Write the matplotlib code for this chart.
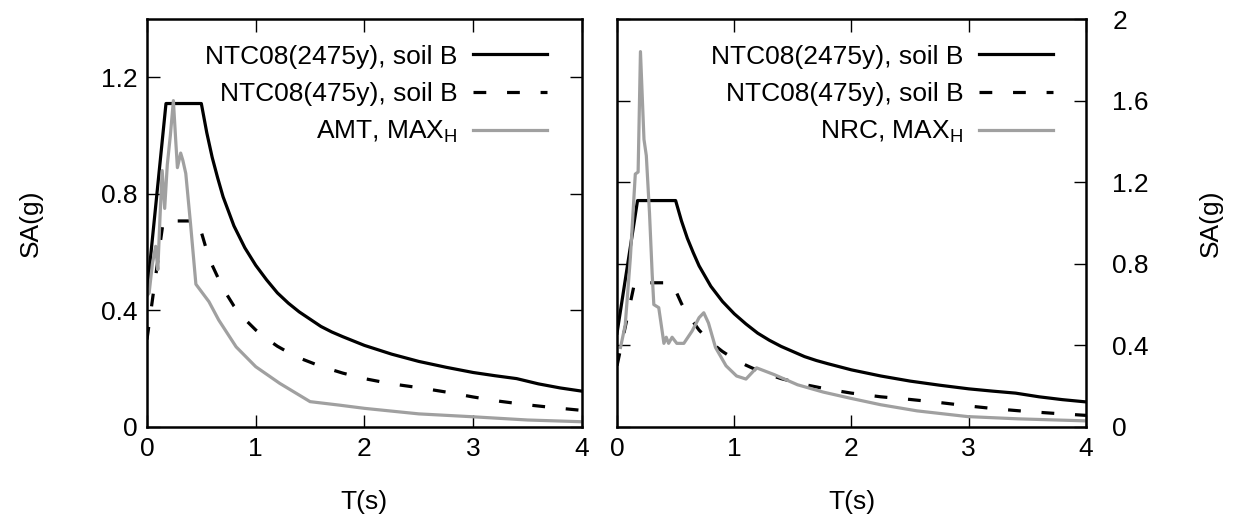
import matplotlib
matplotlib.use("Agg")
import matplotlib.pyplot as plt

plt.rcParams['font.family'] = ['Liberation Sans', 'DejaVu Sans']
plt.rcParams['mathtext.fontset'] = 'custom'
plt.rcParams['mathtext.rm'] = 'Liberation Sans'
plt.rcParams['mathtext.it'] = 'Liberation Sans:italic'

# NTC08 design spectra, soil B (same in both panels)
t_2475 = [0, 0.175, 0.5, 0.55, 0.6, 0.65, 0.7, 0.75, 0.8, 0.9, 1.0, 1.1, 1.2, 1.3,
          1.4, 1.5, 1.6, 1.7, 1.8, 2.0, 2.25, 2.5, 2.75, 3.0, 3.2, 3.4, 3.6, 3.8, 4.0]
sa_2475 = [0.46, 1.11, 1.11, 1.01, 0.925, 0.855, 0.79, 0.74, 0.69, 0.615, 0.555, 0.505,
           0.46, 0.425, 0.395, 0.37, 0.345, 0.326, 0.31, 0.28, 0.25, 0.225, 0.205,
           0.187, 0.176, 0.166, 0.148, 0.134, 0.123]

t_475 = [0, 0.15, 0.47, 0.55, 0.6, 0.7, 0.8, 0.9, 1.0, 1.1, 1.2, 1.3, 1.4, 1.6, 1.8,
         2.0, 2.25, 2.5, 2.75, 3.0, 3.25, 3.5, 3.75, 4.0]
sa_475 = [0.30, 0.707, 0.707, 0.605, 0.555, 0.475, 0.415, 0.37, 0.333, 0.303, 0.277,
          0.256, 0.237, 0.208, 0.185, 0.166, 0.148, 0.135, 0.12, 0.103, 0.088, 0.076,
          0.066, 0.057]

# AMT record, max horizontal
t_amt = [0, 0.02, 0.05, 0.08, 0.10, 0.12, 0.14, 0.163, 0.187, 0.215, 0.243, 0.265,
         0.28, 0.31, 0.33, 0.357, 0.40, 0.45, 0.47, 0.51, 0.57, 0.66, 0.82, 1.0, 1.22,
         1.5, 1.77, 2.0, 2.5, 3.0, 3.5, 4.0]
sa_amt = [0.45, 0.46, 0.56, 0.62, 0.54, 0.72, 0.88, 0.75, 0.90, 1.0, 1.12, 0.98,
          0.89, 0.94, 0.915, 0.87, 0.70, 0.49, 0.48, 0.46, 0.43, 0.367, 0.275, 0.207,
          0.15, 0.087, 0.075, 0.064, 0.045, 0.035, 0.024, 0.018]

# NRC record, max horizontal
t_nrc = [0.03, 0.07, 0.114, 0.156, 0.18, 0.20, 0.23, 0.25, 0.277, 0.30, 0.314, 0.356,
         0.38, 0.40, 0.42, 0.44, 0.47, 0.51, 0.57, 0.64, 0.70, 0.74, 0.78, 0.84, 0.93,
         1.02, 1.10, 1.19, 1.34, 1.54, 1.76, 1.99, 2.25, 2.56, 2.99, 3.42, 4.0]
sa_nrc = [0.39, 0.50, 0.83, 1.24, 1.25, 1.84, 1.41, 1.33, 1.05, 0.75, 0.60, 0.585,
          0.49, 0.41, 0.44, 0.41, 0.44, 0.41, 0.41, 0.47, 0.536, 0.56, 0.51, 0.39, 0.30,
          0.25, 0.235, 0.29, 0.257, 0.207, 0.171, 0.141, 0.109, 0.079, 0.051, 0.04, 0.03]

x_ticks = [0, 1, 2, 3, 4]
y_ticks_left = [0, 0.4, 0.8, 1.2]
y_ticks_right = [0, 0.4, 0.8, 1.2, 1.6, 2]

fs = 19
gray = '#a0a0a0'
dash = (0, (4, 6.5))

fig = plt.figure(figsize=(12.36, 5.28), dpi=100)
ax1 = fig.add_axes([0.1189, 0.1913, 0.3519, 0.7727])
ax2 = fig.add_axes([0.4992, 0.1913, 0.3794, 0.7727])


def tick_label(v):
    return '%g' % v


for ax, t_rec, sa_rec, rec_label, lx in [
        (ax1, t_amt, sa_amt, 'AMT, MAX$_\\mathrm{H}$', 0.92),
        (ax2, t_nrc, sa_nrc, 'NRC, MAX$_\\mathrm{H}$', 0.93)]:
    ax.plot(t_2475, sa_2475, color='black', lw=2.3, label='NTC08(2475y), soil B')
    ax.plot(t_475, sa_475, color='black', lw=2.3, linestyle=dash,
            label='NTC08(475y), soil B')
    ax.plot(t_rec, sa_rec, color=gray, lw=2.3, label=rec_label)
    ax.set_xlim(0, 4)
    ax.set_xticks(x_ticks)
    ax.set_xticklabels([tick_label(v) for v in x_ticks])
    for s in ax.spines.values():
        s.set_linewidth(1.8)
    ax.tick_params(direction='in', length=9, width=1, top=True, right=True, left=True,
                   labelsize=fs, pad=7)
    ax.set_xlabel('T(s)', fontsize=fs)
    ax.xaxis.set_label_coords(0.5, -0.155)
    ax.legend(loc='upper right', bbox_to_anchor=(lx, 0.937), frameon=False,
              markerfirst=False, fontsize=fs, handlelength=2.8, handletextpad=0.6,
              labelspacing=0.5, borderaxespad=0, borderpad=0)

ax1.set_ylim(0, 1.4)
ax1.set_yticks(y_ticks_left)
ax1.set_yticklabels([tick_label(v) for v in y_ticks_left])
ax1.set_ylabel('SA(g)', fontsize=fs)
ax1.yaxis.set_label_coords(-0.24, 0.5)

ax2.set_ylim(0, 2)
ax2.set_yticks(y_ticks_right)
ax2.set_yticklabels([tick_label(v) for v in y_ticks_right])
ax2.tick_params(axis='y', labelleft=False, labelright=True, pad=19)
ax2.yaxis.set_label_position('right')
ax2.set_ylabel('SA(g)', fontsize=fs)
ax2.yaxis.set_label_coords(1.24, 0.5)

fig.savefig('out.png', dpi=100)
